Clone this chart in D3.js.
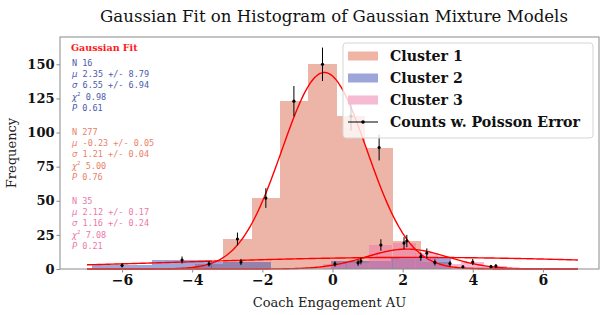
<!DOCTYPE html>
<html>
<head>
<meta charset="utf-8">
<script src="https://cdn.jsdelivr.net/npm/d3@7"></script>
<style>
  body { margin: 0; background: #fff; }
  svg { display: block; }
</style>
</head>
<body>
<svg id="chart" width="604" height="315"></svg>
<script>
// histogram counts (bin centres in x units)
var c1Centers = [-3.52, -2.71, -1.90, -1.10, -0.285, 0.527, 1.33, 2.12, 2.92, 3.72, 4.52]
var c1Counts  = [3.7, 22, 52, 123, 150, 112, 89, 20.5, 4.8, 1.5, 1.7]
var c1Width = 0.805

var c2Centers = [-6.0, -4.29, -2.61, -0.90, 0.81, 2.52, 4.23]
var c2Counts  = [2.7, 6.6, 5.1, 0, 5.8, 9.0, 0]
var c2Width = 1.71

var c3Centers = [0.07, 0.73, 1.38, 2.04, 2.69, 3.35, 4.00, 4.66]
var c3Counts  = [3.7, 4.5, 17.6, 19, 11.7, 4, 5.1, 2.2]
var c3Width = 0.655

// fitted gaussians: amplitude, mean, sigma
var fits = [
  {amp: 8.5, mu: 2.35, sigma: 6.55},
  {amp: 144, mu: -0.23, sigma: 1.21},
  {amp: 14.6, mu: 2.12, sigma: 1.16}
]

var statLines = [
  {color: "#4b5aaa", rows: [["N", "  16"], ["μ", " 2.35 +/- 8.79"], ["σ", " 6.55 +/- 6.94"], ["χ", " 0.98"], ["P", " 0.61"]]},
  {color: "#e8826a", rows: [["N", " 277"], ["μ", " -0.23 +/- 0.05"], ["σ", " 1.21 +/- 0.04"], ["χ", " 5.00"], ["P", " 0.76"]]},
  {color: "#eb78aa", rows: [["N", "  35"], ["μ", " 2.12 +/- 0.17"], ["σ", " 1.16 +/- 0.24"], ["χ", " 7.08"], ["P", " 0.21"]]}
]

var xTicks = [-6, -4, -2, 0, 2, 4, 6]
var yTicks = [0, 25, 50, 75, 100, 125, 150]
var legendLabels = ["Cluster 1", "Cluster 2", "Cluster 3", "Counts w. Poisson Error"]

var colors = ["rgba(222,120,95,0.55)", "rgba(60,80,180,0.5)", "rgba(240,120,170,0.5)"]
var legendColors = ["#efb4a3", "#9da6d8", "#f6bad3"]

// plot box (window.top is read-only, so own names)
var pLeft = 60, pRight = 599, pTop = 37, pBottom = 269

const x = d3.scaleLinear().domain([-7.77, 7.6]).range([pLeft, pRight])
const y = d3.scaleLinear().domain([0, 170]).range([pBottom, pTop])

const svg = d3.select("#chart")

// title
svg.append("text")
  .attr("x", 334).attr("y", 22)
  .attr("text-anchor", "middle")
  .attr("font-family", "DejaVu Serif")
  .attr("font-size", 16.6)
  .attr("fill", "#111")
  .text("Gaussian Fit on Histogram of Gaussian Mixture Models")

const plot = svg.append("g")

function drawHist(centers, counts, width, color) {
  plot.append("g").selectAll("rect")
    .data(centers.map((c, i) => ({c: c, n: counts[i]})))
    .join("rect")
      .attr("x", d => x(d.c - width / 2))
      .attr("width", d => x(d.c + width / 2) - x(d.c - width / 2))
      .attr("y", d => y(d.n))
      .attr("height", d => y(0) - y(d.n))
      .attr("fill", color)
      .attr("shape-rendering", "crispEdges")
}
drawHist(c1Centers, c1Counts, c1Width, colors[0])
drawHist(c2Centers, c2Counts, c2Width, colors[1])
drawHist(c3Centers, c3Counts, c3Width, colors[2])

// fit curves
var xs = d3.range(-7, 7.001, 0.05)
var line = d3.line().x(d => x(d[0])).y(d => y(d[1]))
fits.forEach(f => {
  plot.append("path")
    .attr("d", line(xs.map(v => [v, f.amp * Math.exp(-((v - f.mu) ** 2) / (2 * f.sigma * f.sigma))])))
    .attr("fill", "none")
    .attr("stroke", "#ff0000")
    .attr("stroke-width", 1.4)
})

// poisson error bars
var pts = []
;[[c1Centers, c1Counts], [c2Centers, c2Counts], [c3Centers, c3Counts]].forEach(([cs, ns]) => {
  cs.forEach((c, i) => { if (ns[i] > 0) pts.push({c: c, n: ns[i]}) })
})
const eb = plot.append("g")
eb.selectAll("line")
  .data(pts)
  .join("line")
    .attr("x1", d => x(d.c)).attr("x2", d => x(d.c))
    .attr("y1", d => y(d.n - Math.sqrt(d.n))).attr("y2", d => y(d.n + Math.sqrt(d.n)))
    .attr("stroke", "#000").attr("stroke-width", 1)
eb.selectAll("circle")
  .data(pts)
  .join("circle")
    .attr("cx", d => x(d.c)).attr("cy", d => y(d.n))
    .attr("r", 1.6).attr("fill", "#000")

// frame
svg.append("rect")
  .attr("x", pLeft).attr("y", pTop)
  .attr("width", pRight - pLeft).attr("height", pBottom - pTop)
  .attr("fill", "none").attr("stroke", "#8a8a8a").attr("stroke-width", 1)

// axes
const xAxis = svg.append("g")
  .attr("transform", `translate(0,${pBottom})`)
  .call(d3.axisBottom(x).tickValues(xTicks).tickSize(3.5).tickPadding(3).tickFormat(d => d < 0 ? "−" + Math.abs(d) : d))
xAxis.select(".domain").remove()
xAxis.selectAll("line").attr("stroke", "#8a8a8a")
xAxis.selectAll("text")
  .attr("font-family", "DejaVu Serif").attr("font-weight", "bold")
  .attr("font-size", 14).attr("fill", "#111")

const yAxis = svg.append("g")
  .attr("transform", `translate(${pLeft},0)`)
  .call(d3.axisLeft(y).tickValues(yTicks).tickSize(3.5).tickPadding(2))
yAxis.select(".domain").remove()
yAxis.selectAll("line").attr("stroke", "#8a8a8a")
yAxis.selectAll("text")
  .attr("font-family", "DejaVu Serif").attr("font-weight", "bold")
  .attr("font-size", 13).attr("fill", "#111")

svg.append("text")
  .attr("x", (pLeft + pRight) / 2).attr("y", 307)
  .attr("text-anchor", "middle")
  .attr("font-family", "DejaVu Serif").attr("font-size", 13).attr("fill", "#222")
  .text("Coach Engagement AU")

svg.append("text")
  .attr("transform", `translate(16,${(pTop + pBottom) / 2}) rotate(-90)`)
  .attr("text-anchor", "middle")
  .attr("font-family", "DejaVu Serif").attr("font-size", 13).attr("fill", "#222")
  .text("Frequency")

// fit statistics text
svg.append("text")
  .attr("x", 71).attr("y", 51)
  .attr("font-family", "DejaVu Serif").attr("font-weight", "bold")
  .attr("font-size", 9.5).attr("fill", "#ff1a1a")
  .text("Gaussian Fit")

var blockTops = [66, 135, 204]
statLines.forEach((block, bi) => {
  block.rows.forEach((r, ri) => {
    var t = svg.append("text")
      .attr("x", 72).attr("y", blockTops[bi] + ri * 11.2)
      .attr("font-size", 8.5).attr("fill", block.color)
    if (r[0] == "N") {
      t.append("tspan").attr("font-family", "DejaVu Sans Mono").text(r[0] + r[1])
    } else {
      t.append("tspan").attr("font-family", "DejaVu Sans").attr("font-style", "italic").text(r[0])
      if (r[0] == "χ") t.append("tspan").attr("font-family", "DejaVu Sans").attr("font-size", 5.5).attr("dy", -3.5).text("2")
      t.append("tspan").attr("font-family", "DejaVu Sans Mono").attr("dy", r[0] == "χ" ? 3.5 : 0).text(r[1])
    }
  })
})

// legend
const lg = svg.append("g")
lg.append("rect")
  .attr("x", 343).attr("y", 43).attr("width", 250).attr("height", 95)
  .attr("rx", 3)
  .attr("fill", "rgba(255,255,255,0.8)").attr("stroke", "#d5d5d5")
legendLabels.forEach((lab, i) => {
  var cy = 56 + i * 22
  if (i < 3) {
    lg.append("rect").attr("x", 348).attr("y", cy - 4.5).attr("width", 30).attr("height", 9)
      .attr("fill", legendColors[i])
  } else {
    lg.append("line").attr("x1", 348).attr("x2", 378).attr("y1", cy).attr("y2", cy)
      .attr("stroke", "#000").attr("stroke-width", 1)
    lg.append("circle").attr("cx", 363).attr("cy", cy).attr("r", 1.8).attr("fill", "#000")
  }
  lg.append("text")
    .attr("x", 390).attr("y", cy + 5)
    .attr("font-family", "DejaVu Serif").attr("font-weight", "bold")
    .attr("font-size", 14.2).attr("fill", "#111")
    .text(lab)
})
</script>
</body>
</html>
